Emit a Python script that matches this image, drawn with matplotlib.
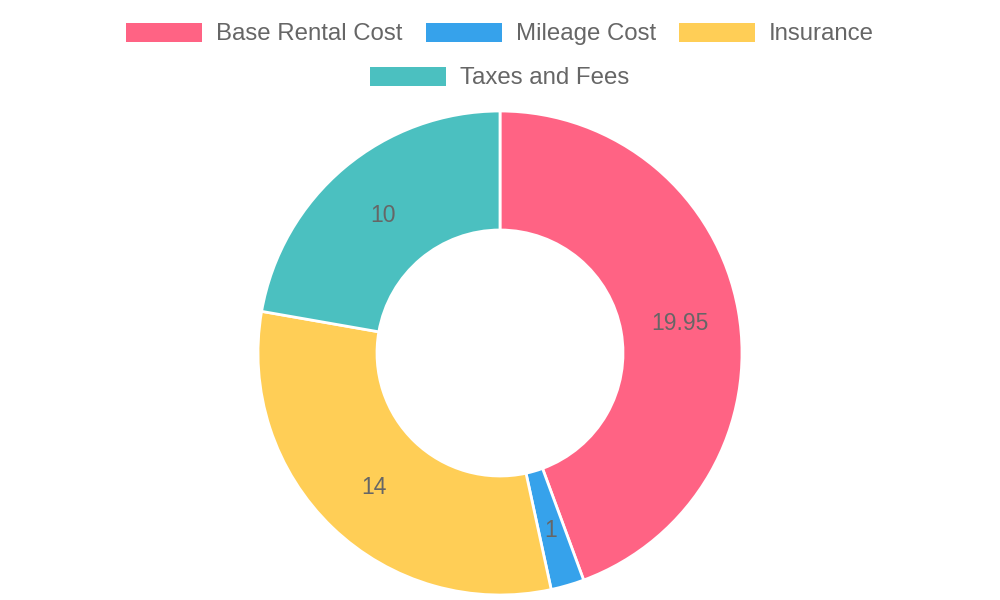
import matplotlib.pyplot as plt
from matplotlib.patches import Patch

# %%
categories = ["Base Rental Cost", "Mileage Cost", "Insurance", "Taxes and Fees"]
costs = [19.95, 1, 14, 10]
colors = ["#FF6384", "#36A2EB", "#FFCE56", "#4BC0C0"]

plt.rcParams['font.family'] = ['Liberation Sans', 'DejaVu Sans']
text_grey = "#666666"

fig = plt.figure(figsize=(10, 6), dpi=100)
ax = fig.add_axes([0, 0, 1, 1])

total = sum(costs)
outer_r = 242
inner_r = 123


def fmt(p):
    v = round(p * total / 100, 2)
    return f"{v:g}"


wedges, texts, autotexts = ax.pie(
    costs, colors=colors, startangle=90, counterclock=False,
    center=(500, 247), radius=outer_r, frame=True,
    wedgeprops=dict(width=outer_r - inner_r, edgecolor='white', linewidth=2),
    autopct=fmt, pctdistance=(outer_r + inner_r) / 2 / outer_r,
    textprops=dict(color=text_grey, fontsize=16.5))
for t in autotexts:
    t.set_va('center_baseline')
ax.set_xlim(0, 1000)
ax.set_ylim(0, 600)
ax.set_aspect('equal')
ax.axis('off')

# legend: chart.js style, centred rows
fs = 17.3
fs_px = fs * 100 / 72
handles = [Patch(facecolor=c, edgecolor='none') for c in colors]
common = dict(loc='center', frameon=False, fontsize=fs, labelcolor=text_grey,
              handlelength=76 / fs_px, handleheight=20 / fs_px,
              handletextpad=14 / fs_px, columnspacing=23 / fs_px, borderpad=0)
leg1 = fig.legend(handles[:3], categories[:3], ncol=3,
                  bbox_to_anchor=(0.5, 1 - 34 / 600), **common)
leg2 = fig.legend(handles[3:], categories[3:], ncol=1,
                  bbox_to_anchor=(0.5, 1 - 78 / 600), **common)

fig.savefig("out.png", dpi=100)
